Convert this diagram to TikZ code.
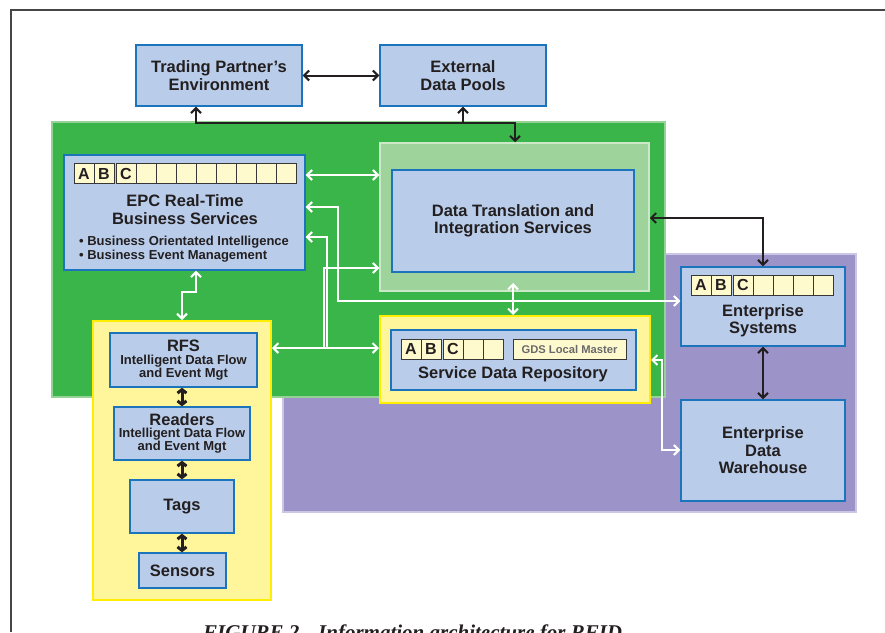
\documentclass[tikz,border=0pt]{standalone}
\usepackage{fontspec}
\setmainfont{Liberation Sans}
\newfontfamily\capfont{Liberation Serif}
\usetikzlibrary{arrows.meta}
\definecolor{grn}{RGB}{58,181,74}
\definecolor{grnb}{RGB}{150,210,150}
\definecolor{lgrn}{RGB}{158,211,155}
\definecolor{lgrnb}{RGB}{205,232,200}
\definecolor{blu}{RGB}{185,205,235}
\definecolor{blub}{RGB}{28,117,188}
\definecolor{yel}{RGB}{255,245,155}
\definecolor{yelb}{RGB}{255,238,0}
\definecolor{pur}{RGB}{156,148,200}
\definecolor{purb}{RGB}{202,198,228}
\definecolor{cellf}{RGB}{255,250,205}
\definecolor{cellb}{RGB}{55,55,55}
\definecolor{ink}{RGB}{35,31,32}
\definecolor{gdsgray}{RGB}{105,105,108}
\definecolor{framec}{RGB}{70,70,70}
\newcommand{\fsz}[2]{\fontsize{#1}{#2}\selectfont}
\newcommand{\abcrow}[4]{%
  \node[cell] (#1A) at (#2+10,#3) {A};
  \node[cell] (#1B) at (#2+30,#3) {B};
  \node[cell] (#1C) at (#2+52,#3) {C};
  \foreach \k in {1,...,#4}{\node[cell] (#1E\k) at (#2+52+20*\k,#3) {};}
}
\tikzset{
  region/.style={rectangle, inner sep=0pt},
  sz/.style 2 args={minimum width=#1pt, minimum height=#2pt},
  bluebox/.style={rectangle, draw=blub, fill=blu, line width=1.4pt, inner sep=0pt, text=ink, align=center, font=\bfseries\fsz{16.5}{17.5}},
  yelbox/.style={rectangle, draw=yelb, fill=yel, line width=2pt, inner sep=0pt},
  cell/.style={rectangle, draw=cellb, fill=cellf, line width=0.9pt, minimum width=20pt, minimum height=20pt, inner sep=0pt, text=ink, font=\bfseries\fsz{16}{16}},
  lbl/.style={inner sep=0pt, text=ink, align=center, font=\bfseries\fsz{16.5}{17.5}},
  sublbl/.style={inner sep=0pt, text=ink, align=center, font=\bfseries\fsz{13}{12.8}},
  wline/.style={draw=white, line width=2pt},
  bline/.style={draw=ink, line width=2pt},
  sline/.style={draw=ink, line width=3pt, arrows={Straight Barb[length=3.5pt,width=9pt]-Straight Barb[length=3.5pt,width=9pt]}},
  >={Straight Barb[length=5pt,width=10pt]},
}
\begin{document}
\begin{tikzpicture}[x=1pt,y=-1pt]
\useasboundingbox (0,0) rectangle (885,632);
\draw[draw=framec, line width=1.2pt] (885,10) -- (11,10) -- (11,632);

% background regions
\node[region, fill=pur, draw=purb, line width=2pt, sz={573}{258}] (purple) at (569.5,383) {};
\node[region, fill=grn, draw=grnb, line width=1.2pt, sz={613}{275}] (green) at (358.5,259.5) {};
\node[region, fill=lgrn, draw=lgrnb, line width=1.5pt, sz={269}{148}] (lg) at (514.5,217) {};
\node[yelbox, sz={270}{87}] (sdry) at (515,359.5) {};
\node[yelbox, sz={178}{279}] (rfidy) at (182,460.5) {};

% boxes
\node[bluebox, sz={166}{61}] (tpe) at (219,75.5) {Trading Partner's\\Environment};
\node[bluebox, sz={166}{61}] (edp) at (463,75.5) {External\\Data Pools};
\node[bluebox, sz={241}{115}] (epc) at (184.5,212.5) {};
\node[bluebox, sz={242}{102}] (dt) at (513,221) {Data Translation and\\Integration Services};
\node[bluebox, sz={245}{60}] (sdr) at (513.5,360) {};
\node[bluebox, sz={164}{79}] (es) at (763,306.5) {};
\node[bluebox, sz={164}{101}] (edw) at (763,450.5) {Enterprise\\Data\\Warehouse};
\node[bluebox, sz={147}{54}] (rfs) at (183.5,360) {};
\node[bluebox, sz={136}{53}] (rdr) at (182,433.5) {};
\node[bluebox, sz={104}{53}] (tags) at (182,506.5) {Tags};
\node[bluebox, sz={87}{35}] (sens) at (182.5,570.5) {Sensors};

% cell rows
\abcrow{e}{74}{173.5}{8}
\abcrow{s}{401}{349}{2}
\abcrow{n}{691}{285}{4}
\node[cell, sz={113}{20}, text=gdsgray, font=\bfseries\fsz{11.2}{12}] (gds) at (569.5,349) {GDS Local Master};

% labels
\node[lbl] (epcT) at (185,209.5) {EPC Real-Time\\Business Services};
\node[sublbl, align=left, anchor=west, font=\bfseries\fsz{13}{13.7}] (epcB) at (79,249) {\textbullet\ Business Orientated Intelligence\\\textbullet\ Business Event Management};
\node[lbl] (sdrT) at (513,374) {Service Data Repository};
\node[lbl] (esT) at (763,320.5) {Enterprise\\Systems};
\node[lbl] (rfsT) at (183.5,346) {RFS};
\node[sublbl] (rfsS) at (183.5,367.5) {Intelligent Data Flow\\and Event Mgt};
\node[lbl] (rdrT) at (182,420) {Readers};
\node[sublbl] (rdrS) at (182,441) {Intelligent Data Flow\\and Event Mgt};

% black connectors
\draw[bline,<->] (tpe.east) -- (edp.west);
\coordinate (bj) at (196,123);
\coordinate (bk) at (515,123);
\draw[bline,<->] (tpe.south -| bj) -- (bj) -- (bk) -- (lg.north -| bk);
\draw[bline,->] (edp.south |- bj) -- (edp.south);
\coordinate (bc) at (763,218);
\draw[bline,<->] (lg.east |- bc) -- (bc) -- (es.north);
\draw[bline,<->] (es.south) -- (edw.north);
\draw[sline] (rfs.south -| rdr.north) -- (rdr.north);
\draw[sline] (rdr.south) -- (tags.north);
\draw[sline] (tags.south) -- (sens.north -| tags.south);

% white connectors
\coordinate (w1) at (340,175);
\draw[wline,<->] (epc.east |- w1) -- (lg.west |- w1);
\coordinate (w2a) at (338,207); \coordinate (w2b) at (338,301);
\draw[wline,<->] (epc.east |- w2a) -- (w2a) -- (w2b) -- (es.west |- w2b);
\coordinate (w3a) at (327,237); \coordinate (w3b) at (327,348);
\draw[wline,->] (w3b) -- (w3a) -- (epc.east |- w3a);
\draw[wline,<->] (rfidy.east |- w3b) -- (sdry.west |- w3b);
\coordinate (w4a) at (324,268); \coordinate (w4b) at (324,348);
\draw[wline,->] (w4b) -- (w4a) -- (lg.west |- w4a);
\coordinate (w5a) at (196,292); \coordinate (w5b) at (182,292);
\draw[wline,<->] (epc.south -| w5a) -- (w5a) -- (w5b) -- (rfidy.north -| w5b);
\coordinate (w6) at (513,283);
\draw[wline,<->] (w6) -- (sdry.north -| w6);
\coordinate (w7a) at (662,360); \coordinate (w7b) at (662,450);
\draw[wline,<->] (sdry.east |- w7a) -- (w7a) -- (w7b) -- (edw.west |- w7b);

% caption (cut off by the page edge, as in the reference)
\node[font=\capfont\bfseries\itshape\fsz{21}{24}, text=ink, anchor=base west, inner sep=0pt] (cap) at (203,639) {FIGURE 2.\hspace{13.5pt}Information architecture for RFID};
\end{tikzpicture}
\end{document}
